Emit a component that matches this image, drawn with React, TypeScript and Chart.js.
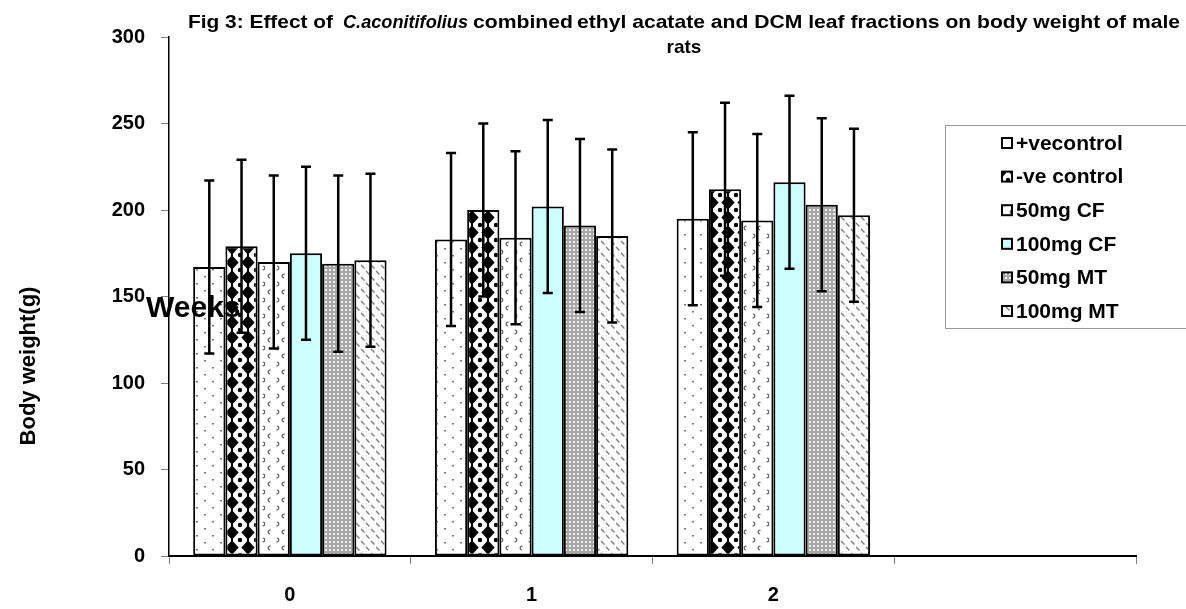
import React, { useEffect, useRef } from 'react';
import { Chart, registerables } from 'chart.js';

Chart.register(...registerables);

// ---- data ----
const weeks = ['0', '1', '2', ''];
const seriesNames = ['+vecontrol', '-ve control', '50mg CF', '100mg CF', '50mg MT', '100mg MT'];
const posControl = [167, 183, 195, null];
const negControl = [179, 200, 212, null];
const cf50 = [170, 184, 194, null];
const cf100 = [175, 202, 216, null];
const mt50 = [169, 191, 203, null];
const mt100 = [171, 185, 197, null];
const posControlSd = [50, 50, 50, null];
const negControlSd = [50, 50, 50, null];
const cf50Sd = [50, 50, 50, null];
const cf100Sd = [50, 50, 50, null];
const mt50Sd = [51, 50, 50, null];
const mt100Sd = [50, 50, 50, null];
const yMin = 0;
const yMax = 300;
const yStep = 50;

const titleLine1 = [
  { text: 'Fig 3: Effect of', font: 'bold 19px Arial, "Liberation Sans", sans-serif', x: 188, w: 145 },
  { text: 'C.aconitifolius', font: 'italic bold 19px "Liberation Sans Narrow", Arial, sans-serif', x: 343, w: 125 },
  { text: 'combined', font: 'bold 18px "Liberation Sans Narrow", Arial, sans-serif', x: 473, w: 100 },
  { text: 'ethyl acatate and DCM leaf fractions on body weight of male', font: 'bold 19px Arial, "Liberation Sans", sans-serif', x: 577, w: 603 },
];
const titleLine2 = 'rats';
const yTitle = 'Body weight(g)';
const xTitle = 'Weeks';

function tile(w: number, h: number, draw: (g: CanvasRenderingContext2D) => void) {
  const c = document.createElement('canvas');
  c.width = w;
  c.height = h;
  const g = c.getContext('2d') as CanvasRenderingContext2D;
  draw(g);
  return c;
}

function makePatterns(ctx: CanvasRenderingContext2D) {
  const pos = tile(16, 14, (g) => {
    g.fillStyle = '#fff';
    g.fillRect(0, 0, 16, 14);
    g.fillStyle = '#777';
    g.fillRect(4, 3, 2, 1.5);
    g.fillRect(12, 10, 2, 1.5);
  });
  const neg = tile(16, 15, (g) => {
    g.fillStyle = '#fff';
    g.fillRect(0, 0, 16, 15);
    g.fillStyle = '#000';
    g.beginPath();
    g.moveTo(8, 0.3);
    g.lineTo(14.6, 7.5);
    g.lineTo(8, 14.7);
    g.lineTo(1.4, 7.5);
    g.closePath();
    g.fill();
    g.fillRect(7, 0, 2, 15);
    const pts = [[0, 0], [16, 0], [0, 15], [16, 15]];
    for (const [px, py] of pts) {
      g.beginPath();
      g.arc(px, py, 2.2, 0, Math.PI * 2);
      g.fill();
    }
  });
  const c50 = tile(14, 16, (g) => {
    g.fillStyle = '#fff';
    g.fillRect(0, 0, 14, 16);
    g.strokeStyle = '#666';
    g.lineWidth = 1.3;
    g.beginPath();
    g.arc(4, 4, 1.8, Math.PI * 0.5, Math.PI * 1.6);
    g.stroke();
    g.beginPath();
    g.arc(11, 12, 1.8, Math.PI * 1.5, Math.PI * 2.6);
    g.stroke();
  });
  const m50 = tile(4, 4, (g) => {
    g.fillStyle = '#a8a8a8';
    g.fillRect(0, 0, 4, 4);
    g.fillStyle = '#f0f0f0';
    g.fillRect(1, 1, 2, 2);
  });
  const m100 = tile(10, 12, (g) => {
    g.fillStyle = '#fff';
    g.fillRect(0, 0, 10, 12);
    g.strokeStyle = '#777';
    g.lineWidth = 1.3;
    g.beginPath();
    g.moveTo(1, 1);
    g.lineTo(4.5, 4.5);
    g.moveTo(6, 7);
    g.lineTo(9.5, 10.5);
    g.stroke();
  });
  return [
    ctx.createPattern(pos, 'repeat'),
    ctx.createPattern(neg, 'repeat'),
    ctx.createPattern(c50, 'repeat'),
    '#CCFFFF',
    ctx.createPattern(m50, 'repeat'),
    ctx.createPattern(m100, 'repeat'),
  ];
}

function fitText(ctx: CanvasRenderingContext2D, text: string, font: string, x: number, y: number, w: number) {
  ctx.font = font;
  const m = ctx.measureText(text).width;
  ctx.save();
  ctx.translate(x, y);
  ctx.scale(w / m, 1);
  ctx.textAlign = 'left';
  ctx.textBaseline = 'alphabetic';
  ctx.fillText(text, 0, 0);
  ctx.restore();
}

export default function App() {
  const ref = useRef<HTMLCanvasElement | null>(null);

  useEffect(() => {
    const canvas = ref.current;
    if (!canvas) return;
    const ctx = canvas.getContext('2d') as CanvasRenderingContext2D;
    const fills = makePatterns(ctx);
    const values = [posControl, negControl, cf50, cf100, mt50, mt100];
    const sds = [posControlSd, negControlSd, cf50Sd, cf100Sd, mt50Sd, mt100Sd];

    const errorBars = {
      id: 'errorBars',
      afterDatasetsDraw(chart: any) {
        const c = chart.ctx;
        const y = chart.scales.y;
        c.save();
        c.strokeStyle = '#000';
        c.lineWidth = 2.5;
        chart.data.datasets.forEach((ds: any, i: number) => {
          const meta = chart.getDatasetMeta(i);
          meta.data.forEach((bar: any, j: number) => {
            const v = ds.data[j];
            const sd = sds[i][j];
            if (v == null || sd == null) return;
            const top = y.getPixelForValue(v + sd);
            const bot = y.getPixelForValue(v - sd);
            c.beginPath();
            c.moveTo(bar.x, top);
            c.lineTo(bar.x, bot);
            c.moveTo(bar.x - 5, top);
            c.lineTo(bar.x + 5, top);
            c.moveTo(bar.x - 5, bot);
            c.lineTo(bar.x + 5, bot);
            c.stroke();
          });
        });
        c.restore();
      },
    };

    const texts = {
      id: 'texts',
      afterDraw(chart: any) {
        const c = chart.ctx;
        c.save();
        c.fillStyle = '#000';
        // title
        for (const s of titleLine1) fitText(c, s.text, s.font, s.x, 28, s.w);
        c.font = 'bold 19px Arial, "Liberation Sans", sans-serif';
        c.textAlign = 'center';
        c.textBaseline = 'alphabetic';
        c.fillText(titleLine2, 684, 53);
        // y title
        c.save();
        c.translate(29, 366);
        c.rotate(-Math.PI / 2);
        c.font = 'bold 22px Arial, "Liberation Sans", sans-serif';
        c.textAlign = 'center';
        c.textBaseline = 'middle';
        c.fillText(yTitle, 0, 0);
        c.restore();
        // Weeks
        c.font = 'bold 30px Arial, "Liberation Sans", sans-serif';
        c.textAlign = 'left';
        c.textBaseline = 'alphabetic';
        c.fillText(xTitle, 146, 317);
        // legend
        c.fillStyle = '#fff';
        c.fillRect(945.5, 125.5, 260, 203);
        c.strokeStyle = '#999';
        c.lineWidth = 1;
        c.strokeRect(945.5, 125.5, 260, 203);
        chart.data.datasets.forEach((ds: any, i: number) => {
          const ry = 143 + i * 33.6;
          c.fillStyle = ds.backgroundColor;
          c.fillRect(1002, ry - 5, 10, 10);
          c.strokeStyle = '#000';
          c.lineWidth = 2;
          c.strokeRect(1002, ry - 5, 10, 10);
          c.fillStyle = '#000';
          c.font = 'bold 21px Arial, "Liberation Sans", sans-serif';
          c.textAlign = 'left';
          c.textBaseline = 'middle';
          c.fillText(ds.label, 1016, ry + 1);
        });
        c.restore();
      },
    };

    const chart = new Chart(canvas, {
      type: 'bar',
      data: {
        labels: weeks,
        datasets: seriesNames.map((name, i) => ({
          label: name,
          data: values[i],
          backgroundColor: fills[i] as any,
          borderColor: '#000',
          borderWidth: 2,
          borderSkipped: false,
          categoryPercentage: 0.8,
          barPercentage: 1.0,
        })),
      },
      options: {
        responsive: false,
        animation: false,
        devicePixelRatio: 1,
        layout: { padding: { top: 37, right: 50, left: 0, bottom: 0 } },
        plugins: {
          legend: { display: false },
          title: { display: false },
          tooltip: { enabled: false },
        },
        scales: {
          x: {
            grid: { drawOnChartArea: false, drawTicks: true, tickLength: 8, color: '#808080', offset: true },
            border: { color: '#000', width: 2 },
            ticks: {
              color: '#000',
              padding: 19,
              font: { family: 'Arial, "Liberation Sans", sans-serif', size: 20, weight: 'bold' },
            },
            afterFit: (s: any) => {
              s.height = 53;
            },
          },
          y: {
            min: yMin,
            max: yMax,
            ticks: {
              stepSize: yStep,
              color: '#000',
              padding: 16,
              font: { family: 'Arial, "Liberation Sans", sans-serif', size: 20, weight: 'bold' },
            },
            grid: { drawOnChartArea: false, drawTicks: true, tickLength: 8, color: '#808080' },
            border: { color: '#000', width: 1.5 },
            afterFit: (s: any) => {
              s.width = 169;
            },
          },
        },
      },
      plugins: [errorBars, texts],
    });
    return () => chart.destroy();
  }, []);

  return (
    <div style={{ position: 'fixed', left: 0, top: 0, width: 1186, height: 609, background: '#fff' }}>
      <canvas ref={ref} width={1186} height={609} style={{ display: 'block' }} />
    </div>
  );
}
